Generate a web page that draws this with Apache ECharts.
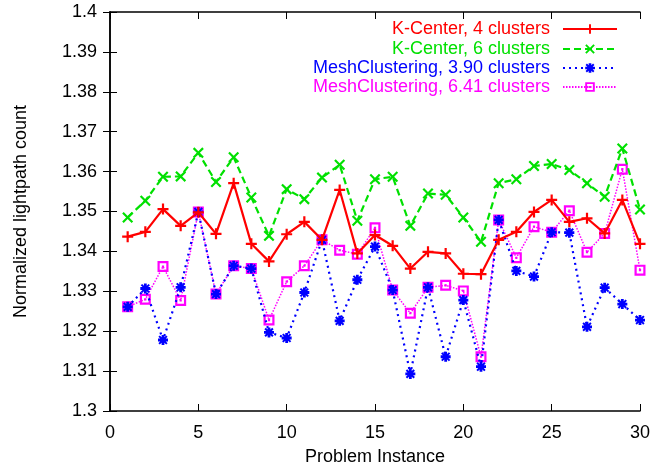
<!DOCTYPE html>
<html>
<head>
<meta charset="utf-8">
<script src="https://cdn.jsdelivr.net/npm/echarts@6/dist/echarts.min.js"></script>
<style>
  html, body { margin: 0; padding: 0; background: #fff; }
  #chart { width: 665px; height: 470px; }
</style>
</head>
<body>
<div id="chart"></div>
<script>
// problem instances 1..30
let instances = [];
for (let i = 1; i <= 30; i++) instances.push(i);

let kc4 = [1.3437, 1.3449, 1.3506, 1.3464, 1.3498, 1.3444, 1.3571, 1.3419, 1.3375, 1.3443,
           1.3474, 1.3429, 1.3554, 1.3395, 1.3441, 1.3414, 1.3357, 1.3399, 1.3395, 1.3344,
           1.3343, 1.3429, 1.3449, 1.3499, 1.3529, 1.3474, 1.3483, 1.3445, 1.3529, 1.3419];
let kc6 = [1.3485, 1.3527, 1.3587, 1.3588, 1.3647, 1.3574, 1.3636, 1.3535, 1.3439, 1.3556,
           1.3531, 1.3585, 1.3617, 1.3477, 1.3581, 1.3587, 1.3464, 1.3545, 1.3542, 1.3485,
           1.3424, 1.3571, 1.3581, 1.3614, 1.3619, 1.3604, 1.3571, 1.3537, 1.3658, 1.3505];
let mc390 = [1.3261, 1.3307, 1.3178, 1.3310, 1.3499, 1.3293, 1.3364, 1.3357, 1.3197, 1.3183,
             1.3297, 1.3429, 1.3226, 1.3329, 1.3412, 1.3303, 1.3093, 1.3310, 1.3136, 1.3278,
             1.3111, 1.3479, 1.3351, 1.3337, 1.3448, 1.3447, 1.3211, 1.3309, 1.3268, 1.3228];
let mc641 = [1.3261, 1.3280, 1.3362, 1.3277, 1.3499, 1.3293, 1.3364, 1.3357, 1.3228, 1.3324,
             1.3364, 1.3429, 1.3403, 1.3393, 1.3459, 1.3303, 1.3245, 1.3310, 1.3315, 1.3301,
             1.3136, 1.3479, 1.3384, 1.3462, 1.3448, 1.3502, 1.3398, 1.3445, 1.3606, 1.3353];

let names = ['K-Center, 4 clusters', 'K-Center, 6 clusters',
             'MeshClustering, 3.90 clusters', 'MeshClustering, 6.41 clusters'];
let colors = ['#ff0000', '#00e000', '#0000ff', '#ff00ff'];

const FONT = 'Liberation Sans, Arial, Helvetica, sans-serif';
const FS = 18;

// gnuplot-like point symbols
let symPlus = 'path://M4,0H6V4H10V6H6V10H4V6H0V4H4Z';
let symCross = 'path://M1.4,0L5,3.6L8.6,0L10,1.4L6.4,5L10,8.6L8.6,10L5,6.4L1.4,10L0,8.6L3.6,5L0,1.4Z';
let symStar = 'path://M3.6,0H6.4V2.2L8.2,0.4L9.6,1.8L7.8,3.6H10V6.4H7.8L9.6,8.2L8.2,9.6L6.4,7.8V10H3.6V7.8L1.8,9.6L0.4,8.2L2.2,6.4H0V3.6H2.2L0.4,1.8L1.8,0.4L3.6,2.2Z';
let symBox = 'path://M0,0H10V10H0Z M2,2V8H8V2Z M4,4H6V6H4Z';

function pairs(vals) {
  return instances.map((x, i) => [x, vals[i]]);
}

let seriesDefs = [
  {vals: kc4, symbol: symPlus, size: 11, line: {width: 2.2, type: 'solid'}},
  {vals: kc6, symbol: symCross, size: 11, line: {width: 2.2, type: [7, 4]}},
  {vals: mc390, symbol: symStar, size: 10, line: {width: 2.2, type: [2, 4]}},
  {vals: mc641, symbol: symBox, size: 11, line: {width: 1.5, type: [1.5, 1.5]}}
];

let series = seriesDefs.map((d, i) => ({
  name: names[i],
  type: 'line',
  data: pairs(d.vals),
  symbol: d.symbol,
  symbolSize: d.size,
  showAllSymbol: true,
  lineStyle: {color: colors[i], width: d.line.width, type: d.line.type},
  itemStyle: {color: colors[i]},
  animation: false,
  z: 10 - i
}));

// one legend per row so that the text is right-aligned like gnuplot
let legendTops = [20, 40, 59, 78];
let legends = names.map((n, i) => ({
  orient: 'vertical',
  right: 47,
  top: legendTops[i],
  align: 'right',
  itemWidth: 54,
  itemHeight: 12,
  padding: 0,
  data: [{name: n, textStyle: {color: colors[i]}}],
  textStyle: {fontFamily: FONT, fontSize: FS, padding: [0, 8, 0, 0]},
  selectedMode: false
}));

let axisLineStyle = {show: true, lineStyle: {color: '#000', width: 1.5}};
let tickStyle = {show: true, inside: true, length: 7, lineStyle: {color: '#000', width: 1}};

let chart = echarts.init(document.getElementById('chart'));
chart.setOption({
  backgroundColor: '#fff',
  animation: false,
  legend: legends,
  grid: {left: 110, right: 25, top: 12, bottom: 59, containLabel: false, outerBoundsMode: 'none'},
  xAxis: [{
    type: 'value',
    min: 0, max: 30, interval: 5,
    name: 'Problem Instance',
    nameLocation: 'middle',
    nameGap: 37,
    nameTextStyle: {fontFamily: FONT, fontSize: FS, color: '#000'},
    axisLine: axisLineStyle,
    axisTick: tickStyle,
    axisLabel: {fontFamily: FONT, fontSize: FS, color: '#000', margin: 13},
    splitLine: {show: false}
  }, {
    type: 'value',
    position: 'top',
    min: 0, max: 30, interval: 5,
    axisLine: axisLineStyle,
    axisTick: tickStyle,
    axisLabel: {show: false},
    splitLine: {show: false}
  }],
  yAxis: [{
    type: 'value',
    min: 1.3, max: 1.4, interval: 0.01,
    name: 'Normalized lightpath count',
    nameLocation: 'middle',
    nameGap: 80,
    nameTextStyle: {fontFamily: FONT, fontSize: FS, color: '#000'},
    axisLine: axisLineStyle,
    axisTick: tickStyle,
    axisLabel: {fontFamily: FONT, fontSize: FS, color: '#000', margin: 13},
    splitLine: {show: false}
  }, {
    type: 'value',
    position: 'right',
    min: 1.3, max: 1.4, interval: 0.01,
    axisLine: axisLineStyle,
    axisTick: tickStyle,
    axisLabel: {show: false},
    splitLine: {show: false}
  }],
  series: series
});
</script>
</body>
</html>
